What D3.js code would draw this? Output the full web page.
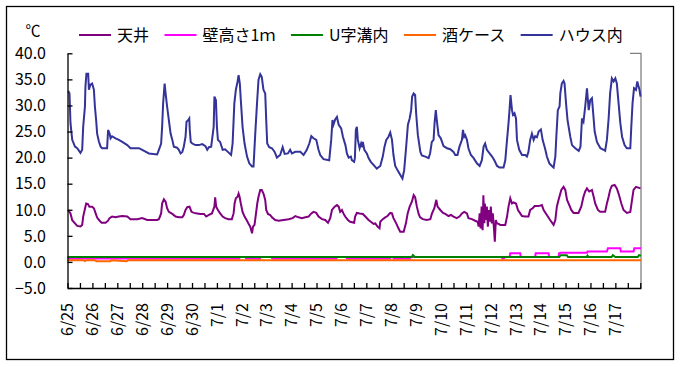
<!DOCTYPE html>
<html><head><meta charset="utf-8">
<script src="https://cdn.jsdelivr.net/npm/d3@7"></script>
<style>
body{margin:0;background:#fff}
svg text{font-family:"Noto Sans CJK JP","Noto Sans",sans-serif;fill:#000}
</style>
</head><body>
<svg id="c" width="681" height="367"></svg>
<script>
// ---- data ----
const dateLabels = ["6/25","6/26","6/27","6/28","6/29","6/30","7/1","7/2","7/3","7/4","7/5","7/6","7/7","7/8","7/9","7/10","7/11","7/12","7/13","7/14","7/15","7/16","7/17"];
const yTicks = [-5,0,5,10,15,20,25,30,35,40];
const seriesNames = ["天井","壁高さ1ｍ","U字溝内","酒ケース","ハウス内"];
const seriesColors = ["#800080","#ff00ff","#008000","#ff6600","#333399"];
const unitLabel = "℃";

// time in days since 6/25 0:00
const ceilT = [0.03,0.12,0.19,0.30,0.39,0.52,0.59,0.63,0.69,0.75,0.82,0.88,0.99,1.06,1.13,1.19,1.29,1.37,1.53,1.63,1.69,1.79,1.93,2.06,2.20,2.40,2.53,2.67,2.80,3.00,3.20,3.40,3.60,3.67,3.76,3.80,3.87,3.94,4.00,4.07,4.21,4.34,4.47,4.61,4.67,4.74,4.81,4.90,4.98,5.08,5.21,5.34,5.48,5.57,5.68,5.80,5.90,5.93,5.97,6.04,6.13,6.23,6.33,6.47,6.60,6.67,6.71,6.76,6.83,6.87,6.91,6.96,7.03,7.11,7.21,7.27,7.34,7.41,7.45,7.51,7.57,7.62,7.67,7.74,7.80,7.87,7.94,7.98,8.05,8.14,8.21,8.34,8.48,8.68,8.88,9.04,9.15,9.28,9.41,9.55,9.68,9.79,9.88,9.99,10.08,10.22,10.35,10.46,10.55,10.62,10.73,10.82,10.89,10.95,11.02,11.08,11.15,11.26,11.35,11.51,11.55,11.62,11.73,11.86,11.96,12.09,12.18,12.29,12.36,12.45,12.53,12.56,12.66,12.76,12.85,12.96,13.03,13.09,13.20,13.29,13.36,13.50,13.59,13.66,13.74,13.83,13.90,13.96,14.03,14.10,14.16,14.27,14.43,14.57,14.63,14.73,14.81,14.86,14.97,15.08,15.17,15.30,15.40,15.50,15.63,15.74,15.84,15.93,16.04,16.10,16.24,16.37,16.47,16.51,16.55,16.59,16.63,16.67,16.70,16.74,16.76,16.80,16.84,16.88,16.92,16.96,17.00,17.04,17.08,17.12,17.16,17.20,17.24,17.31,17.38,17.58,17.65,17.71,17.78,17.85,17.91,18.01,18.09,18.18,18.25,18.38,18.51,18.58,18.68,18.76,18.92,19.05,19.12,19.25,19.38,19.52,19.59,19.65,19.72,19.83,19.92,19.99,20.06,20.15,20.23,20.32,20.52,20.63,20.72,20.79,20.86,20.95,21.06,21.13,21.19,21.30,21.39,21.59,21.66,21.73,21.79,21.86,21.97,22.06,22.13,22.24,22.33,22.46,22.60,22.67,22.73,22.83,23.01];
const ceilV = [9.96,9.3,8.0,7.4,6.9,6.8,7.1,8.7,9.96,11.2,11.1,10.6,10.6,10.3,9.3,8.5,7.9,7.5,7.5,7.9,8.4,8.7,8.55,8.7,8.8,8.7,8.2,8.2,8.2,8.4,8.04,8.04,8.04,8.2,9.3,11.2,12.0,11.55,10.3,9.6,9.2,8.7,8.55,8.55,9.0,9.96,10.5,10.6,9.6,9.4,9.3,9.2,9.2,8.7,9.0,9.3,10.6,12.4,10.6,9.96,9.3,8.7,8.4,8.2,8.2,9.3,11.2,12.2,12.5,13.1,12.5,11.2,9.6,8.7,7.9,7.3,6.76,5.5,6.76,7.1,9.3,11.2,12.5,13.8,13.8,13.1,11.9,9.96,9.2,9.0,8.55,8.04,7.9,8.04,8.2,8.4,8.8,8.55,8.4,8.55,8.7,9.3,9.6,9.4,8.7,8.2,8.04,7.5,8.4,9.96,10.6,10.9,10.6,9.6,9.96,9.3,8.7,8.04,7.7,7.5,8.7,9.4,9.3,9.2,8.7,8.04,7.7,7.3,7.4,6.76,6.44,7.7,8.2,8.55,8.8,9.4,9.3,8.4,7.4,6.44,5.8,5.8,7.4,9.3,10.6,11.55,12.8,12.4,10.6,9.2,8.55,8.2,8.04,8.2,9.2,10.3,11.9,10.6,9.96,9.4,9.2,8.8,9.0,8.7,8.4,8.7,9.3,9.6,9.3,8.4,8.2,7.9,7.7,6.76,9.3,6.44,10.6,6.1,12.8,7.4,11.2,8.04,10.6,6.76,9.96,7.7,10.6,7.4,9.3,6.76,3.9,8.04,7.4,7.3,7.1,7.1,8.7,10.6,12.2,11.2,11.4,11.2,9.96,9.3,8.8,8.7,8.7,9.96,10.3,10.7,10.7,10.9,9.96,9.0,8.04,7.1,8.04,10.6,11.9,13.8,14.4,13.8,11.9,10.9,9.96,9.4,9.4,10.6,12.5,13.5,14.1,13.5,13.8,12.5,11.2,9.96,9.6,9.6,11.2,12.5,13.8,14.6,14.75,14.1,13.1,11.2,9.96,9.4,9.6,11.9,13.8,14.4,14.1];

const wallT = [0,6.90,6.92,7.15,7.17,7.73,7.75,8.20,8.22,10.80,10.82,11.20,11.22,12.95,12.97,13.08,13.10,13.75,13.77,17.44,17.46,17.52,17.55,17.75,17.78,18.18,18.20,18.78,18.80,19.32,19.34,19.72,19.74,19.80,20.86,20.88,21.66,21.70,22.20,22.22,22.73,22.76,23.03];
const wallV = [0.65,0.65,0.95,0.95,0.65,0.65,0.95,0.95,0.65,0.65,0.95,0.95,0.65,0.65,0.95,0.95,0.65,0.65,0.95,0.95,0.65,0.65,0.95,0.95,1.65,1.65,0.95,0.95,1.65,1.65,0.95,0.95,1.65,1.75,1.75,2.0,2.0,2.6,2.6,2.0,2.0,2.6,2.6];

const ditchT = [0,13.82,13.87,13.95,19.75,19.80,20.05,20.10,20.85,20.88,20.92,21.85,21.90,22.00,22.90,22.95,23.03];
const ditchV = [0.95,0.95,1.3,0.95,0.95,1.3,1.3,0.95,0.95,1.2,0.95,0.95,1.3,0.95,0.95,1.3,1.2];

const sakeT = [0,0.05,0.64,0.70,0.76,1.10,1.16,1.72,1.76,2.38,2.42,23.03];
const sakeV = [0.2,0.32,0.32,0.15,0.32,0.32,0.15,0.15,0.32,0.15,0.32,0.32];

const houseT = [0.03,0.08,0.12,0.19,0.30,0.39,0.52,0.59,0.63,0.70,0.72,0.76,0.83,0.86,0.92,0.99,1.06,1.10,1.15,1.19,1.26,1.33,1.39,1.59,1.63,1.69,1.73,1.79,1.93,2.06,2.20,2.40,2.53,2.87,3.00,3.27,3.60,3.67,3.76,3.80,3.84,3.90,3.94,4.00,4.07,4.14,4.21,4.27,4.40,4.47,4.54,4.61,4.67,4.74,4.78,4.85,4.89,4.91,4.95,5.01,5.14,5.28,5.41,5.54,5.61,5.68,5.77,5.87,5.90,5.96,6.00,6.04,6.13,6.23,6.33,6.44,6.57,6.63,6.70,6.76,6.83,6.87,6.92,6.96,7.03,7.11,7.21,7.30,7.41,7.47,7.54,7.61,7.67,7.74,7.80,7.87,7.94,7.98,8.02,8.10,8.21,8.32,8.41,8.54,8.64,8.72,8.85,8.94,9.01,9.15,9.35,9.48,9.61,9.71,9.79,9.88,9.99,10.08,10.15,10.28,10.51,10.59,10.64,10.68,10.75,10.82,10.89,10.99,11.06,11.16,11.22,11.29,11.38,11.42,11.51,11.54,11.58,11.62,11.66,11.73,11.79,11.84,11.86,11.92,12.02,12.09,12.18,12.29,12.42,12.56,12.66,12.73,12.80,12.89,12.96,13.03,13.09,13.16,13.25,13.36,13.45,13.52,13.60,13.67,13.74,13.80,13.84,13.90,13.96,14.00,14.07,14.17,14.23,14.37,14.50,14.56,14.63,14.70,14.74,14.79,14.83,14.90,14.99,15.10,15.24,15.37,15.50,15.57,15.66,15.74,15.84,15.88,15.93,15.97,16.04,16.10,16.20,16.31,16.44,16.55,16.64,16.71,16.77,16.84,16.95,17.05,17.14,17.25,17.35,17.51,17.58,17.65,17.71,17.75,17.79,17.85,17.89,17.95,18.01,18.05,18.14,18.25,18.38,18.45,18.51,18.58,18.65,18.72,18.78,18.85,18.92,19.01,19.08,19.19,19.25,19.35,19.45,19.52,19.59,19.63,19.69,19.76,19.79,19.85,19.92,19.96,20.02,20.08,20.19,20.26,20.39,20.53,20.60,20.66,20.72,20.79,20.86,20.93,20.99,21.06,21.10,21.17,21.26,21.40,21.53,21.59,21.66,21.73,21.79,21.86,21.93,22.00,22.06,22.13,22.20,22.27,22.37,22.46,22.60,22.64,22.69,22.75,22.83,22.88,22.93,22.97,23.01];
const houseV = [32.8,32.3,26.6,23.4,22.1,21.8,20.9,21.5,25.9,29.8,33.6,36.1,36.1,33.0,34.0,34.2,33.0,29.8,27.2,24.6,23.1,22.1,21.8,21.8,25.3,24.6,23.7,24.1,23.7,23.4,23.0,22.4,21.8,21.8,21.5,20.8,20.6,21.5,22.7,25.9,30.4,34.2,32.3,29.8,27.2,24.6,23.4,22.1,21.9,21.5,20.8,21.1,22.1,24.0,26.9,27.2,27.5,25.3,23.0,22.7,22.4,22.4,22.6,22.2,21.5,22.0,22.1,25.9,31.7,31.0,25.9,23.4,23.0,21.5,21.6,21.1,20.5,22.7,30.4,33.0,34.6,35.8,34.2,31.0,25.9,22.7,20.2,18.9,18.3,18.3,24.6,30.4,34.9,36.0,35.5,33.0,32.3,27.2,22.7,22.0,21.8,21.1,20.0,20.5,22.0,20.7,20.8,21.5,20.8,21.1,21.1,20.5,21.5,22.7,24.1,23.7,23.4,21.5,20.5,19.7,19.5,23.4,27.2,26.3,27.3,27.8,26.3,25.6,24.0,22.4,20.8,20.0,20.2,19.5,19.2,19.9,25.3,25.9,23.4,21.8,22.7,22.0,23.0,21.5,20.8,19.9,19.2,18.6,17.9,18.4,20.2,22.1,23.4,24.0,24.8,23.4,20.5,18.4,17.6,16.7,16.0,17.6,22.1,26.3,27.5,29.1,31.7,32.3,32.0,28.5,24.3,21.1,20.4,20.2,19.9,20.8,23.0,23.4,26.6,29.1,27.2,24.3,23.7,22.2,21.8,21.6,21.1,20.5,20.5,22.1,23.4,25.3,24.0,24.3,23.4,21.8,20.5,19.9,18.9,18.4,19.5,22.1,22.7,21.5,20.8,20.2,19.5,18.4,18.1,18.1,19.5,23.4,26.6,29.1,32.0,29.1,28.2,28.5,27.5,23.4,21.5,20.5,20.5,20.2,21.1,23.4,24.6,23.4,24.1,23.9,25.0,25.4,23.4,21.5,20.2,18.9,18.4,18.1,20.2,24.0,29.1,29.8,32.3,34.2,34.7,34.2,30.4,27.2,24.0,22.4,21.8,21.3,22.1,27.5,26.9,29.8,33.3,29.1,31.0,31.4,29.1,25.0,23.0,21.8,21.5,21.3,23.4,27.5,32.3,35.2,34.6,35.2,34.2,30.4,26.6,24.0,22.4,21.8,21.8,25.9,30.4,33.3,33.0,34.6,33.7,33.0,31.7];

const seriesT = [ceilT, wallT, ditchT, sakeT, houseT];
const seriesV = [ceilV, wallV, ditchV, sakeV, houseV];

// ---- drawing ----
const svg = d3.select("#c");
svg.append("rect").attr("x",6.5).attr("y",6.5).attr("width",667).attr("height",353)
  .attr("fill","#fff").attr("stroke","#000").attr("stroke-width",1.3);

const L = 67.5, R = 641, T = 53.3, B = 288;
const x = d3.scaleLinear().domain([0, 23.03]).range([L, R]);
const y = d3.scaleLinear().domain([-5, 40]).range([B, T]);

// right gray border
svg.append("path").attr("d",`M${R-11},${T}H${R}V${B}`).attr("fill","none")
  .attr("stroke","#808080").attr("stroke-width",1.3);

// series
const line = d3.line().x(d=>x(d[0])).y(d=>y(d[1]));
seriesT.forEach((ts,i)=>{
  const pts = ts.map((t,j)=>[t, seriesV[i][j]]);
  svg.append("path").datum(pts).attr("d",line).attr("fill","none")
    .attr("stroke",seriesColors[i]).attr("stroke-width",2).attr("stroke-linejoin","miter");
});

// y axis
const yAxis = d3.axisLeft(y).tickValues(yTicks).tickSizeInner(-5).tickSizeOuter(0).tickFormat("");
const gy = svg.append("g").attr("transform",`translate(${L},0)`).call(yAxis);
gy.select(".domain").attr("stroke","#000").attr("stroke-width",1.3);
gy.selectAll(".tick line").attr("stroke","#000").attr("stroke-width",1.3);
svg.append("g").selectAll("text").data(yTicks).join("text")
  .attr("x",46).attr("y",d=>y(d)).attr("dy","0.36em").attr("text-anchor","end")
  .attr("font-size",16).text(d=>d3.format(".1f")(d).replace("-","\u2212"));

// x axis
const halfDays = d3.range(0, 23.03, 0.5);
const xAxis = d3.axisBottom(x).tickValues(halfDays).tickSizeInner(-5).tickSizeOuter(0).tickFormat("");
const gx = svg.append("g").attr("transform",`translate(0,${B})`).call(xAxis);
gx.select(".domain").attr("stroke","#000").attr("stroke-width",1.3);
gx.selectAll(".tick line").attr("stroke","#000").attr("stroke-width",1.3);
svg.append("g").selectAll("text").data(dateLabels).join("text")
  .attr("transform",(d,i)=>`translate(${x(i)},303) rotate(-90)`)
  .attr("dy","0.36em").attr("text-anchor","end").attr("font-size",16).text(d=>d);

// unit
svg.append("text").attr("x",33).attr("y",36).attr("text-anchor","middle")
  .attr("font-size",15).text(unitLabel);

// legend
let lx = 79;
const ly = 35;
seriesNames.forEach((n,i)=>{
  svg.append("line").attr("x1",lx).attr("x2",lx+32).attr("y1",ly).attr("y2",ly)
    .attr("stroke",seriesColors[i]).attr("stroke-width",2);
  const t = svg.append("text").attr("x",lx+38).attr("y",ly).attr("dy","0.36em")
    .attr("font-size",16).text(n);
  lx = lx + 38 + t.node().getComputedTextLength() + 15.5;
});
</script>
</body></html>
